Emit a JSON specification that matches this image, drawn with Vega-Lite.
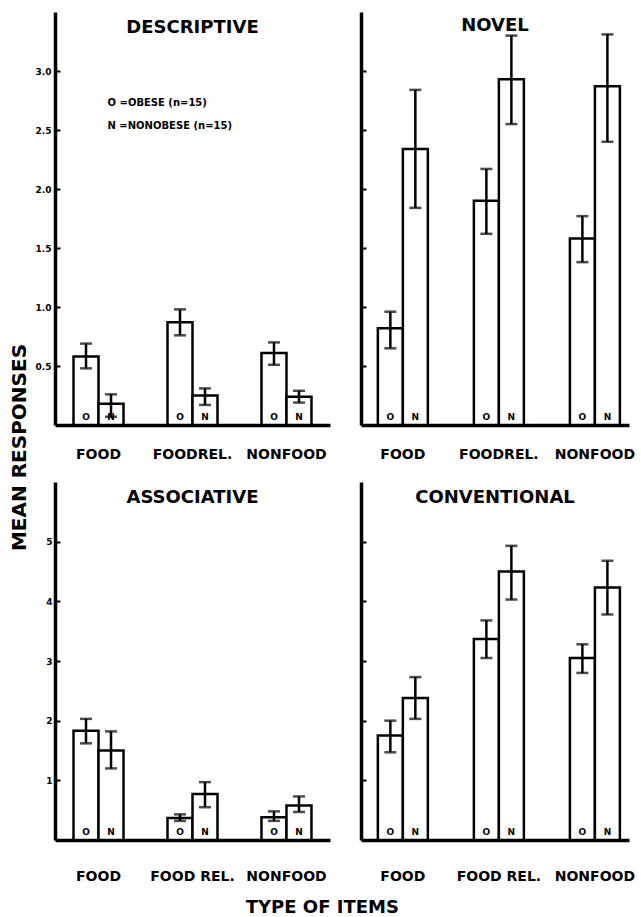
{
  "$schema": "https://vega.github.io/schema/vega-lite/v6.json",
  "padding": {"left": 10, "top": 12, "right": 5, "bottom": 5},
  "background": "white",
  "config": {
    "view": {"stroke": null},
    "font": "DejaVu Sans",
    "axis": {"grid": false, "domainColor": "black", "tickColor": "black", "labelColor": "black", "titleColor": "black"},
    "title": {"color": "black", "fontWeight": "bold"},
    "text": {"color": "black"}
  },
  "title": {"text": "TYPE OF ITEMS", "orient": "bottom", "anchor": "middle", "fontSize": 18, "fontWeight": "bold", "offset": 16},
  "datasets": {
    "descriptive": [
      {"cat": "FOOD", "grp": "O", "mean": 0.58, "lo": 0.48, "hi": 0.69},
      {"cat": "FOOD", "grp": "N", "mean": 0.18, "lo": 0.07, "hi": 0.26},
      {"cat": "FOOD REL.", "grp": "O", "mean": 0.87, "lo": 0.76, "hi": 0.98},
      {"cat": "FOOD REL.", "grp": "N", "mean": 0.25, "lo": 0.17, "hi": 0.31},
      {"cat": "NONFOOD", "grp": "O", "mean": 0.61, "lo": 0.51, "hi": 0.70},
      {"cat": "NONFOOD", "grp": "N", "mean": 0.24, "lo": 0.19, "hi": 0.29}
    ],
    "novel": [
      {"cat": "FOOD", "grp": "O", "mean": 0.82, "lo": 0.65, "hi": 0.96},
      {"cat": "FOOD", "grp": "N", "mean": 2.34, "lo": 1.84, "hi": 2.84},
      {"cat": "FOOD REL.", "grp": "O", "mean": 1.90, "lo": 1.62, "hi": 2.17},
      {"cat": "FOOD REL.", "grp": "N", "mean": 2.93, "lo": 2.55, "hi": 3.30},
      {"cat": "NONFOOD", "grp": "O", "mean": 1.58, "lo": 1.38, "hi": 1.77},
      {"cat": "NONFOOD", "grp": "N", "mean": 2.87, "lo": 2.40, "hi": 3.31}
    ],
    "associative": [
      {"cat": "FOOD", "grp": "O", "mean": 1.83, "lo": 1.62, "hi": 2.03},
      {"cat": "FOOD", "grp": "N", "mean": 1.50, "lo": 1.20, "hi": 1.82},
      {"cat": "FOOD REL.", "grp": "O", "mean": 0.37, "lo": 0.32, "hi": 0.43},
      {"cat": "FOOD REL.", "grp": "N", "mean": 0.77, "lo": 0.55, "hi": 0.97},
      {"cat": "NONFOOD", "grp": "O", "mean": 0.38, "lo": 0.32, "hi": 0.48},
      {"cat": "NONFOOD", "grp": "N", "mean": 0.58, "lo": 0.47, "hi": 0.73}
    ],
    "conventional": [
      {"cat": "FOOD", "grp": "O", "mean": 1.75, "lo": 1.47, "hi": 2.00},
      {"cat": "FOOD", "grp": "N", "mean": 2.38, "lo": 2.03, "hi": 2.73},
      {"cat": "FOOD REL.", "grp": "O", "mean": 3.37, "lo": 3.05, "hi": 3.68},
      {"cat": "FOOD REL.", "grp": "N", "mean": 4.50, "lo": 4.03, "hi": 4.93},
      {"cat": "NONFOOD", "grp": "O", "mean": 3.05, "lo": 2.80, "hi": 3.28},
      {"cat": "NONFOOD", "grp": "N", "mean": 4.23, "lo": 3.78, "hi": 4.68}
    ],
    "legend": [
      {"label": "O =OBESE (n=15)", "y": 2.73},
      {"label": "N =NONOBESE (n=15)", "y": 2.53}
    ]
  },
  "spacing": 30,
  "hconcat": [
    {
      "title": {"text": "MEAN RESPONSES", "orient": "left", "anchor": "middle", "fontSize": 20, "fontWeight": "bold", "offset": 5},
      "spacing": 21,
      "vconcat": [
        {
          "width": 275, "height": 413,
          "data": {"name": "descriptive"},
          "title": {"text": "DESCRIPTIVE", "offset": -25, "fontSize": 18, "fontWeight": "bold", "anchor": "middle", "frame": "group"},
          "layer": [
            {"mark": {"type": "bar", "fill": "white", "stroke": "black", "strokeWidth": 2.5},
             "encoding": {
               "x": {"field": "cat", "type": "nominal", "sort": ["FOOD", "FOOD REL.", "NONFOOD"], "scale": {"paddingInner": 0.468, "paddingOuter": 0.197},
                     "axis": {"title": null, "labelAngle": 0, "ticks": false, "domainWidth": 3.5, "labelPadding": 22, "labelFontSize": 14, "labelFontWeight": "bold", "labelExpr": "datum.value == 'FOOD REL.' ? 'FOODREL.' : datum.value"}},
               "xOffset": {"field": "grp", "type": "nominal", "sort": ["O", "N"], "scale": {"paddingInner": 0, "paddingOuter": 0}},
               "y": {"field": "mean", "type": "quantitative", "scale": {"domain": [0, 3.5], "nice": false},
                     "axis": {"title": null, "values": [0.5, 1, 1.5, 2, 2.5, 3], "format": ".1f", "domainWidth": 3.5, "tickWidth": 2, "tickSize": -5, "labelFontSize": 9, "labelFontWeight": "bold", "labelPadding": 9}}
             }},
            {"mark": {"type": "rule", "color": "black", "strokeWidth": 2.5},
             "encoding": {
               "x": {"field": "cat", "type": "nominal", "sort": ["FOOD", "FOOD REL.", "NONFOOD"]},
               "xOffset": {"field": "grp", "type": "nominal", "sort": ["O", "N"]},
               "y": {"field": "lo", "type": "quantitative"}, "y2": {"field": "hi"}}},
            {"mark": {"type": "tick", "color": "black", "thickness": 2.5, "size": 12},
             "encoding": {
               "x": {"field": "cat", "type": "nominal", "sort": ["FOOD", "FOOD REL.", "NONFOOD"]},
               "xOffset": {"field": "grp", "type": "nominal", "sort": ["O", "N"]},
               "y": {"field": "lo", "type": "quantitative"}}},
            {"mark": {"type": "tick", "color": "black", "thickness": 2.5, "size": 12},
             "encoding": {
               "x": {"field": "cat", "type": "nominal", "sort": ["FOOD", "FOOD REL.", "NONFOOD"]},
               "xOffset": {"field": "grp", "type": "nominal", "sort": ["O", "N"]},
               "y": {"field": "hi", "type": "quantitative"}}},
            {"mark": {"type": "text", "fontSize": 9, "fontWeight": "bold", "baseline": "bottom", "dy": -3},
             "encoding": {
               "x": {"field": "cat", "type": "nominal", "sort": ["FOOD", "FOOD REL.", "NONFOOD"]},
               "xOffset": {"field": "grp", "type": "nominal", "sort": ["O", "N"]},
               "y": {"datum": 0}, "text": {"field": "grp"}}},
            {"data": {"name": "legend"},
             "mark": {"type": "text", "fontSize": 10, "fontWeight": "bold", "align": "left", "baseline": "middle", "dx": 9},
             "encoding": {"x": {"datum": "FOOD"}, "y": {"field": "y", "type": "quantitative"}, "text": {"field": "label"}}}
          ]
        },
        {
          "width": 275, "height": 358,
          "data": {"name": "associative"},
          "title": {"text": "ASSOCIATIVE", "offset": -25, "fontSize": 18, "fontWeight": "bold", "anchor": "middle", "frame": "group"},
          "layer": [
            {"mark": {"type": "bar", "fill": "white", "stroke": "black", "strokeWidth": 2.5},
             "encoding": {
               "x": {"field": "cat", "type": "nominal", "sort": ["FOOD", "FOOD REL.", "NONFOOD"], "scale": {"paddingInner": 0.468, "paddingOuter": 0.197},
                     "axis": {"title": null, "labelAngle": 0, "ticks": false, "domainWidth": 3.5, "labelPadding": 29, "labelFontSize": 14, "labelFontWeight": "bold"}},
               "xOffset": {"field": "grp", "type": "nominal", "sort": ["O", "N"], "scale": {"paddingInner": 0, "paddingOuter": 0}},
               "y": {"field": "mean", "type": "quantitative", "scale": {"domain": [0, 6], "nice": false},
                     "axis": {"title": null, "values": [1, 2, 3, 4, 5], "format": "d", "domainWidth": 3.5, "tickWidth": 2, "tickSize": -5, "labelFontSize": 9, "labelFontWeight": "bold", "labelPadding": 8}}
             }},
            {"mark": {"type": "rule", "color": "black", "strokeWidth": 2.5},
             "encoding": {
               "x": {"field": "cat", "type": "nominal", "sort": ["FOOD", "FOOD REL.", "NONFOOD"]},
               "xOffset": {"field": "grp", "type": "nominal", "sort": ["O", "N"]},
               "y": {"field": "lo", "type": "quantitative"}, "y2": {"field": "hi"}}},
            {"mark": {"type": "tick", "color": "black", "thickness": 2.5, "size": 12},
             "encoding": {
               "x": {"field": "cat", "type": "nominal", "sort": ["FOOD", "FOOD REL.", "NONFOOD"]},
               "xOffset": {"field": "grp", "type": "nominal", "sort": ["O", "N"]},
               "y": {"field": "lo", "type": "quantitative"}}},
            {"mark": {"type": "tick", "color": "black", "thickness": 2.5, "size": 12},
             "encoding": {
               "x": {"field": "cat", "type": "nominal", "sort": ["FOOD", "FOOD REL.", "NONFOOD"]},
               "xOffset": {"field": "grp", "type": "nominal", "sort": ["O", "N"]},
               "y": {"field": "hi", "type": "quantitative"}}},
            {"mark": {"type": "text", "fontSize": 9, "fontWeight": "bold", "baseline": "bottom", "dy": -3},
             "encoding": {
               "x": {"field": "cat", "type": "nominal", "sort": ["FOOD", "FOOD REL.", "NONFOOD"]},
               "xOffset": {"field": "grp", "type": "nominal", "sort": ["O", "N"]},
               "y": {"datum": 0}, "text": {"field": "grp"}}}
          ]
        }
      ]
    },
    {
      "spacing": 21,
      "vconcat": [
        {
          "width": 268, "height": 413,
          "data": {"name": "novel"},
          "title": {"text": "NOVEL", "offset": -23, "fontSize": 18, "fontWeight": "bold", "anchor": "middle", "frame": "group"},
          "layer": [
            {"mark": {"type": "bar", "fill": "white", "stroke": "black", "strokeWidth": 2.5},
             "encoding": {
               "x": {"field": "cat", "type": "nominal", "sort": ["FOOD", "FOOD REL.", "NONFOOD"], "scale": {"paddingInner": 0.479, "paddingOuter": 0.135, "align": 0.65},
                     "axis": {"title": null, "labelAngle": 0, "ticks": false, "domainWidth": 3.5, "labelPadding": 22, "labelFontSize": 14, "labelFontWeight": "bold", "labelExpr": "datum.value == 'FOOD REL.' ? 'FOODREL.' : datum.value"}},
               "xOffset": {"field": "grp", "type": "nominal", "sort": ["O", "N"], "scale": {"paddingInner": 0, "paddingOuter": 0}},
               "y": {"field": "mean", "type": "quantitative", "scale": {"domain": [0, 3.5], "nice": false},
                     "axis": {"title": null, "values": [0.5, 1, 1.5, 2, 2.5, 3], "labels": false, "domainWidth": 3.5, "tickWidth": 2, "tickSize": -5}}
             }},
            {"mark": {"type": "rule", "color": "black", "strokeWidth": 2.5},
             "encoding": {
               "x": {"field": "cat", "type": "nominal", "sort": ["FOOD", "FOOD REL.", "NONFOOD"]},
               "xOffset": {"field": "grp", "type": "nominal", "sort": ["O", "N"]},
               "y": {"field": "lo", "type": "quantitative"}, "y2": {"field": "hi"}}},
            {"mark": {"type": "tick", "color": "black", "thickness": 2.5, "size": 12},
             "encoding": {
               "x": {"field": "cat", "type": "nominal", "sort": ["FOOD", "FOOD REL.", "NONFOOD"]},
               "xOffset": {"field": "grp", "type": "nominal", "sort": ["O", "N"]},
               "y": {"field": "lo", "type": "quantitative"}}},
            {"mark": {"type": "tick", "color": "black", "thickness": 2.5, "size": 12},
             "encoding": {
               "x": {"field": "cat", "type": "nominal", "sort": ["FOOD", "FOOD REL.", "NONFOOD"]},
               "xOffset": {"field": "grp", "type": "nominal", "sort": ["O", "N"]},
               "y": {"field": "hi", "type": "quantitative"}}},
            {"mark": {"type": "text", "fontSize": 9, "fontWeight": "bold", "baseline": "bottom", "dy": -3},
             "encoding": {
               "x": {"field": "cat", "type": "nominal", "sort": ["FOOD", "FOOD REL.", "NONFOOD"]},
               "xOffset": {"field": "grp", "type": "nominal", "sort": ["O", "N"]},
               "y": {"datum": 0}, "text": {"field": "grp"}}}
          ]
        },
        {
          "width": 268, "height": 358,
          "data": {"name": "conventional"},
          "title": {"text": "CONVENTIONAL", "offset": -25, "fontSize": 18, "fontWeight": "bold", "anchor": "middle", "frame": "group"},
          "layer": [
            {"mark": {"type": "bar", "fill": "white", "stroke": "black", "strokeWidth": 2.5},
             "encoding": {
               "x": {"field": "cat", "type": "nominal", "sort": ["FOOD", "FOOD REL.", "NONFOOD"], "scale": {"paddingInner": 0.479, "paddingOuter": 0.135, "align": 0.65},
                     "axis": {"title": null, "labelAngle": 0, "ticks": false, "domainWidth": 3.5, "labelPadding": 29, "labelFontSize": 14, "labelFontWeight": "bold"}},
               "xOffset": {"field": "grp", "type": "nominal", "sort": ["O", "N"], "scale": {"paddingInner": 0, "paddingOuter": 0}},
               "y": {"field": "mean", "type": "quantitative", "scale": {"domain": [0, 6], "nice": false},
                     "axis": {"title": null, "values": [1, 2, 3, 4, 5], "labels": false, "domainWidth": 3.5, "tickWidth": 2, "tickSize": -5}}
             }},
            {"mark": {"type": "rule", "color": "black", "strokeWidth": 2.5},
             "encoding": {
               "x": {"field": "cat", "type": "nominal", "sort": ["FOOD", "FOOD REL.", "NONFOOD"]},
               "xOffset": {"field": "grp", "type": "nominal", "sort": ["O", "N"]},
               "y": {"field": "lo", "type": "quantitative"}, "y2": {"field": "hi"}}},
            {"mark": {"type": "tick", "color": "black", "thickness": 2.5, "size": 12},
             "encoding": {
               "x": {"field": "cat", "type": "nominal", "sort": ["FOOD", "FOOD REL.", "NONFOOD"]},
               "xOffset": {"field": "grp", "type": "nominal", "sort": ["O", "N"]},
               "y": {"field": "lo", "type": "quantitative"}}},
            {"mark": {"type": "tick", "color": "black", "thickness": 2.5, "size": 12},
             "encoding": {
               "x": {"field": "cat", "type": "nominal", "sort": ["FOOD", "FOOD REL.", "NONFOOD"]},
               "xOffset": {"field": "grp", "type": "nominal", "sort": ["O", "N"]},
               "y": {"field": "hi", "type": "quantitative"}}},
            {"mark": {"type": "text", "fontSize": 9, "fontWeight": "bold", "baseline": "bottom", "dy": -3},
             "encoding": {
               "x": {"field": "cat", "type": "nominal", "sort": ["FOOD", "FOOD REL.", "NONFOOD"]},
               "xOffset": {"field": "grp", "type": "nominal", "sort": ["O", "N"]},
               "y": {"datum": 0}, "text": {"field": "grp"}}}
          ]
        }
      ]
    }
  ]
}
